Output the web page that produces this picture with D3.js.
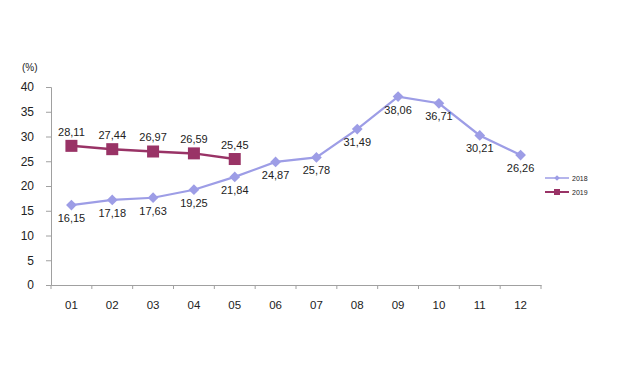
<!DOCTYPE html>
<html><head><meta charset="utf-8">
<script src="https://cdn.jsdelivr.net/npm/d3@7/dist/d3.min.js"></script>
<style>body{margin:0;background:#fff}svg{display:block}text{font-family:"Liberation Sans",Arial,sans-serif}</style>
</head><body><svg id="c" width="626" height="376"></svg>
<script>
const months = ["01","02","03","04","05","06","07","08","09","10","11","12"];
const s2018 = [16.15,17.18,17.63,19.25,21.84,24.87,25.78,31.49,38.06,36.71,30.21,26.26];
const s2019 = [28.11,27.44,26.97,26.59,25.45];
const yTicks = [0,5,10,15,20,25,30,35,40];
const seriesNames = ["2018","2019"];

const svg = d3.select("#c");
const x = d3.scaleBand().domain(months).range([51, 541]);
const y = d3.scaleLinear().domain([0,40]).range([285, 87]);
const axisCol = "#a0a0a0";
const c18 = "#9d9de6", c19 = "#993366";
const fmt = v => v.toFixed(2).replace(".", ",");

// y axis
const ya = svg.append("g").attr("transform","translate(51,0)")
  .call(d3.axisLeft(y).tickValues(yTicks).tickSize(5).tickPadding(12).tickFormat(d=>d));
ya.select(".domain").attr("stroke",axisCol);
ya.selectAll("line").attr("stroke",axisCol);
ya.selectAll("text").attr("font-size",12).attr("fill","#222");
// x axis
const xa = svg.append("g").attr("transform","translate(0,285)")
  .call(d3.axisBottom(x).tickSize(0).tickPadding(16));
xa.select(".domain").attr("stroke",axisCol);
xa.selectAll("text").attr("font-size",11.5).attr("fill","#222");
svg.append("g").selectAll("line").data(d3.range(months.length+1)).join("line")
  .attr("x1",i=>51+i*x.step()).attr("x2",i=>51+i*x.step())
  .attr("y1",285).attr("y2",289).attr("stroke",axisCol);

svg.append("text").attr("x",22).attr("y",71).attr("font-size",10).attr("fill","#222").text("(%)");

const cx = (d,i)=>x(months[i])+x.bandwidth()/2;
const line = d3.line().x(cx).y(d=>y(d));

// 2018
svg.append("path").datum(s2018).attr("d",line).attr("fill","none").attr("stroke",c18).attr("stroke-width",2.2);
svg.append("g").selectAll("rect").data(s2018).join("rect")
  .attr("x",-3.8).attr("y",-3.8).attr("width",7.6).attr("height",7.6)
  .attr("transform",(d,i)=>`translate(${cx(d,i)},${y(d)}) rotate(45)`).attr("fill",c18);
svg.append("g").selectAll("text").data(s2018).join("text")
  .attr("x",cx).attr("y",d=>y(d)+17).attr("text-anchor","middle")
  .attr("font-size",11).attr("fill","#222").text(fmt);

// 2019
svg.append("path").datum(s2019).attr("d",line).attr("fill","none").attr("stroke",c19).attr("stroke-width",2.5);
svg.append("g").selectAll("rect").data(s2019).join("rect")
  .attr("x",(d,i)=>cx(d,i)-6).attr("y",d=>y(d)-6).attr("width",12).attr("height",12).attr("fill",c19);
svg.append("g").selectAll("text").data(s2019).join("text")
  .attr("x",cx).attr("y",d=>y(d)-10).attr("text-anchor","middle")
  .attr("font-size",11).attr("fill","#222").text(fmt);

// legend
const lg = svg.append("g");
const legCols = [c18,c19];
seriesNames.forEach((n,i)=>{
  const ly = 178 + i*14;
  lg.append("line").attr("x1",545).attr("x2",569).attr("y1",ly).attr("y2",ly).attr("stroke",legCols[i]).attr("stroke-width",i?2:1.5);
  if(i===0) lg.append("rect").attr("x",-2).attr("y",-2).attr("width",4).attr("height",4).attr("transform",`translate(557,${ly}) rotate(45)`).attr("fill",c18);
  else lg.append("rect").attr("x",554).attr("y",ly-3).attr("width",6).attr("height",6).attr("fill",c19);
  lg.append("text").attr("x",572).attr("y",ly+2.5).attr("font-size",7).attr("fill","#222").text(n);
});
</script></body></html>
